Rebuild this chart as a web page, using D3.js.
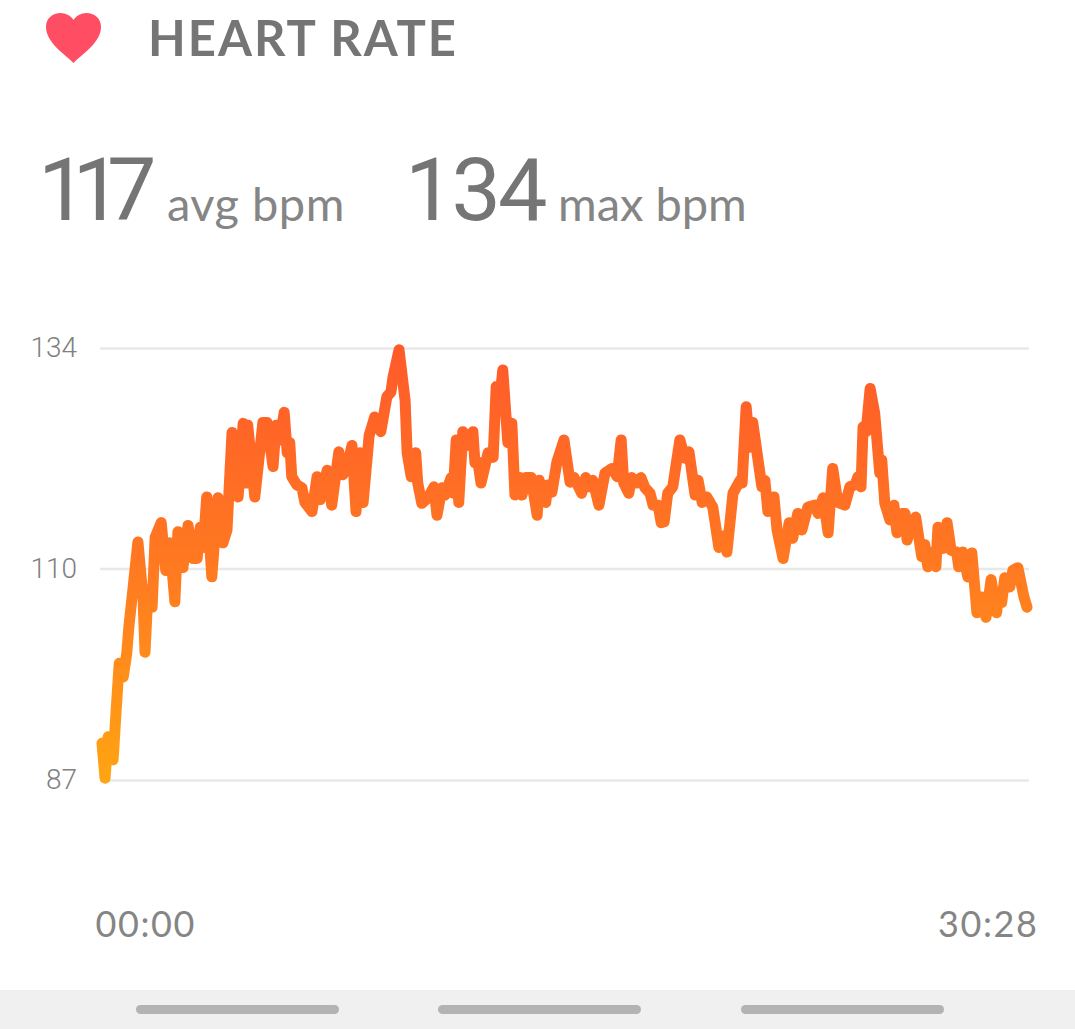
<!DOCTYPE html>
<html>
<head>
<meta charset="utf-8">
<script src="https://cdnjs.cloudflare.com/ajax/libs/d3/7.8.5/d3.min.js"></script>
<style>
  html, body { margin: 0; padding: 0; background: #fff; }
  svg { display: block; font-family: Lato, "Open Sans", sans-serif; }
</style>
</head>
<body>
<svg id="chart" width="1075" height="1029"></svg>
<script>
const titleText = 'HEART RATE';
const avgBpm = '117';
const maxBpm = '134';
const yTicks = [87, 110, 134];
const xTicks = [0, 1828];
const xTickLabels = ['00:00', '30:28'];

// seconds since start of the workout
const seconds = [
  0, 6, 12, 22, 28, 34, 42, 49, 53, 61, 71, 81, 85, 91, 99, 105, 117, 126, 134, 144,
  150, 160, 170, 180, 188, 194, 200, 207, 217, 229, 239, 247, 257, 269, 279, 285, 288, 302, 318, 326,
  338, 344, 352, 360, 366, 371, 375, 385, 395, 401, 415, 425, 431, 445, 454, 468, 476, 486, 494, 502,
  510, 516, 528, 539, 551, 563, 571, 575, 587, 599, 603, 611, 620, 624, 632, 644, 656, 662, 672, 678,
  690, 694, 700, 705, 713, 721, 733, 737, 743, 749, 763, 773, 779, 786, 792, 802, 810, 816, 826, 830,
  838, 848, 860, 864, 877, 881, 889, 899, 913, 925, 933, 948, 956, 962, 970, 982, 994, 1008, 1018, 1026,
  1031, 1041, 1047, 1057, 1065, 1073, 1083, 1089, 1099, 1105, 1111, 1118, 1128, 1142, 1152, 1160, 1172, 1178, 1186, 1195,
  1207, 1219, 1231, 1235, 1247, 1261, 1265, 1273, 1280, 1286, 1304, 1310, 1316, 1328, 1334, 1346, 1358, 1365, 1375, 1383,
  1395, 1409, 1415, 1425, 1435, 1444, 1454, 1468, 1478, 1488, 1494, 1500, 1504, 1510, 1518, 1527, 1537, 1541, 1547, 1557,
  1565, 1571, 1581, 1587, 1591, 1601, 1608, 1620, 1626, 1632, 1640, 1648, 1652, 1662, 1670, 1678, 1689, 1693, 1701, 1711,
  1719, 1729, 1739, 1747, 1757, 1768, 1772, 1778, 1784, 1794, 1800, 1810, 1822, 1828
];

const bpm = [
  91, 87.2, 91.7, 89.2, 94.6, 99.7, 98.2, 100.8, 103.6, 107.7, 112.9, 106.9, 100.9, 107.7, 105.8, 113.4, 115, 109.8, 112.8, 106.4,
  114, 110.1, 114.7, 111.1, 111.1, 114.5, 112.3, 117.8, 109.1, 117.7, 112.8, 114.2, 124.8, 117.8, 125.8, 119.3, 125.6, 117.8, 125.9, 125.9,
  121.1, 125.6, 124, 127, 122.6, 123.7, 120, 119.1, 118.8, 117.2, 116.2, 120, 117.5, 120.7, 116.9, 122.7, 120.2, 121.5, 123.4, 116.2,
  122.6, 117.2, 124.5, 126.5, 124.9, 128.7, 129.2, 130.8, 133.8, 128.3, 122.6, 120, 122.6, 119.3, 117.1, 117.7, 118.9, 115.8, 118.8, 118,
  119.9, 118.2, 124, 117.2, 124.9, 123.4, 124.9, 121.5, 121.6, 119.3, 122.6, 122.1, 129.8, 128.3, 131.6, 123.7, 125.8, 118, 119.9, 118,
  119.9, 119.9, 115.8, 119.6, 117.2, 119.1, 118.3, 121.6, 124, 119.4, 119.9, 118.2, 119.9, 118.9, 119.6, 116.9, 120.4, 120.9, 120, 124,
  119.3, 118.2, 119.9, 119.3, 119.9, 118.8, 118.2, 116.9, 116.9, 115, 115.1, 118.2, 118.9, 124, 122, 122.7, 118, 119.6, 117.2, 117.8,
  116.7, 112.3, 113.6, 111.8, 118.2, 119.6, 119.3, 127.6, 123.2, 125.9, 118.9, 119.6, 116.2, 117.8, 114.2, 111.1, 115, 113.3, 116, 114.2,
  116.7, 116.9, 116, 117.7, 113.9, 120.9, 117.2, 116.9, 118.9, 119.1, 120, 118.9, 125.4, 124.9, 129.6, 126.9, 120.4, 121.8, 117.1, 115.3,
  116.9, 113.9, 116, 116, 113.1, 115, 115.6, 111.3, 112.6, 110.2, 111.8, 110.2, 114.5, 112.2, 115, 112, 111.8, 110.2, 111.8, 109.1,
  111.7, 105.2, 106.9, 104.7, 108.8, 105.2, 107.4, 106.3, 109, 108, 109.8, 110.1, 106.9, 105.8
];

const svg = d3.select('#chart');
const x = d3.scaleLinear().domain([0, 1828]).range([102, 1027]);
const y = d3.scaleLinear().domain([87, 134]).range([780, 348]);

// header
svg.append('path')
  .attr('d', 'M27.5 50 C20 42 0 30 0 14 C0 5 7 0 14.5 0 C20 0 25 3 27.5 7 C30 3 35 0 40.5 0 C48 0 55 5 55 14 C55 30 35 42 27.5 50 Z')
  .attr('transform', 'translate(46 13)')
  .attr('fill', '#FF4D64');

svg.append('text').attr('x', 148).attr('y', 56)
  .attr('font-size', 49).attr('font-weight', 700).attr('fill', '#757575')
  .attr('letter-spacing', 2).text(titleText);

svg.append('text').attr('x', 38).attr('y', 220)
  .attr('font-size', 88).attr('font-weight', 400).attr('fill', '#757575')
  .attr('font-family', 'Roboto').attr('letter-spacing', -15).text(avgBpm);
svg.append('text').attr('x', 167).attr('y', 221)
  .attr('font-size', 47).attr('font-weight', 400).attr('fill', '#858585')
  .attr('letter-spacing', 0.5).text('avg bpm');
svg.append('text').attr('x', 405).attr('y', 220)
  .attr('font-size', 88).attr('font-weight', 400).attr('fill', '#757575')
  .attr('font-family', 'Roboto').attr('letter-spacing', -3).text(maxBpm);
svg.append('text').attr('x', 558).attr('y', 221)
  .attr('font-size', 47).attr('font-weight', 400).attr('fill', '#858585')
  .text('max bpm');

// y axis + gridlines
const yAxis = svg.append('g')
  .attr('transform', 'translate(100 0)')
  .call(d3.axisLeft(y).tickValues(yTicks).tickSize(-929).tickPadding(23).tickFormat(d3.format('d')));
yAxis.select('.domain').remove();
yAxis.selectAll('line').attr('stroke', '#E8E8E8').attr('stroke-width', 2.5);
yAxis.selectAll('text').attr('font-size', 28).attr('font-weight', 300).attr('fill', '#808080').attr('font-family', 'Roboto');

// x axis labels, first one hangs right, last one hangs left
const xAxis = svg.append('g')
  .attr('transform', 'translate(0 900)')
  .call(d3.axisBottom(x).tickValues(xTicks).tickSize(0).tickPadding(0).tickFormat((d, i) => xTickLabels[i]));
xAxis.select('.domain').remove();
xAxis.selectAll('text')
  .attr('font-size', 36).attr('fill', '#858585').attr('font-family', 'Lato')
  .attr('letter-spacing', 1.6)
  .attr('dy', 0).attr('y', 37)
  .attr('text-anchor', (d, i) => i == 0 ? 'start' : 'end')
  .attr('dx', (d, i) => i == 0 ? -7 : 11);

// vertical gradient on the line
const grad = svg.append('defs').append('linearGradient')
  .attr('id', 'hr').attr('gradientUnits', 'userSpaceOnUse')
  .attr('x1', 0).attr('x2', 0).attr('y1', y(87)).attr('y2', y(134));
grad.append('stop').attr('offset', '0%').attr('stop-color', '#FFA412');
grad.append('stop').attr('offset', '45%').attr('stop-color', '#FF7C20');
grad.append('stop').attr('offset', '100%').attr('stop-color', '#FF5A2A');

const line = d3.line().x((d, i) => x(seconds[i])).y(d => y(d));
svg.append('path')
  .attr('d', line(bpm))
  .attr('fill', 'none')
  .attr('stroke', 'url(#hr)')
  .attr('stroke-width', 11)
  .attr('stroke-linejoin', 'round')
  .attr('stroke-linecap', 'round');

// phone nav bar at the bottom
svg.append('rect').attr('x', 0).attr('y', 990).attr('width', 1075).attr('height', 39).attr('fill', '#F0F0F0');
svg.selectAll('.pill').data([136, 438, 741]).enter().append('rect')
  .attr('class', 'pill')
  .attr('x', d => d).attr('y', 1005).attr('width', 203).attr('height', 9).attr('rx', 4.5)
  .attr('fill', '#B3B3B3');
</script>
</body>
</html>
